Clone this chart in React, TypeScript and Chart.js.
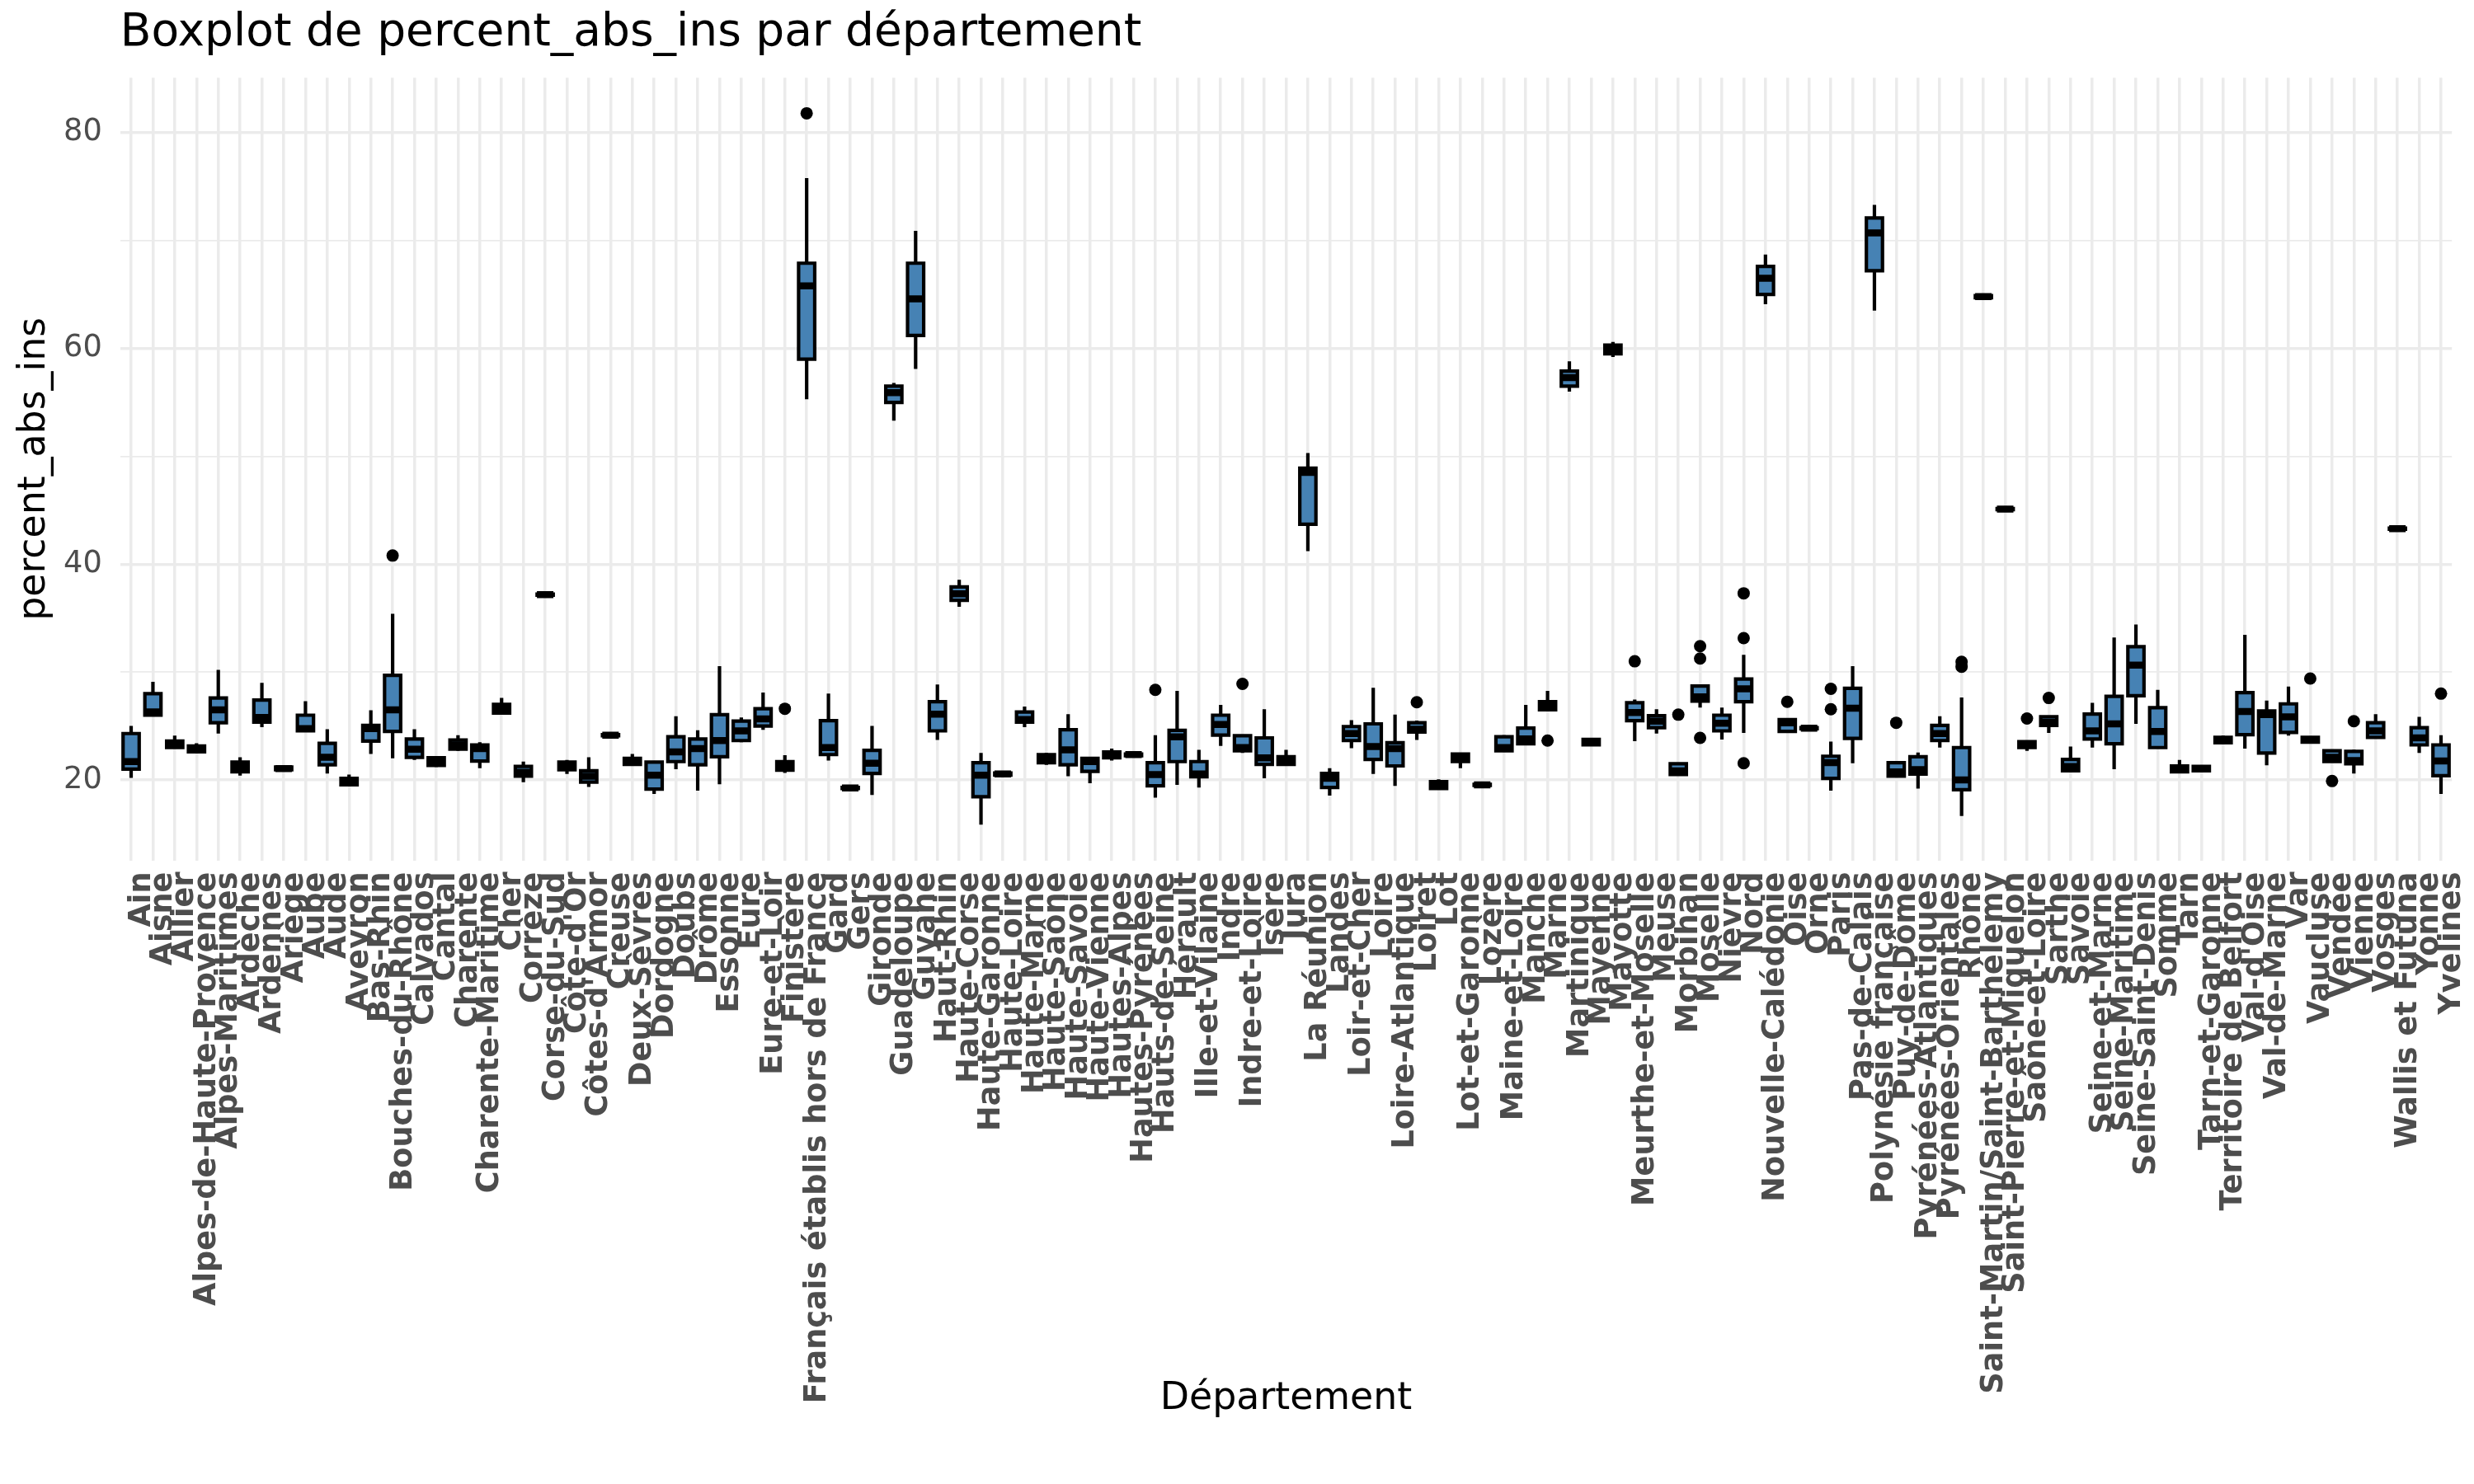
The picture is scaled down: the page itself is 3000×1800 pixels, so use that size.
import React, { useEffect, useRef } from 'react';
import { Chart, registerables } from 'chart.js';

Chart.register(...registerables);

const departements = [
  'Ain', 'Aisne', 'Allier', 'Alpes-de-Haute-Provence', 'Alpes-Maritimes', 'Ardèche', 'Ardennes', 'Ariège', 'Aube', 'Aude',
  'Aveyron', 'Bas-Rhin', 'Bouches-du-Rhône', 'Calvados', 'Cantal', 'Charente', 'Charente-Maritime', 'Cher', 'Corrèze', 'Corse-du-Sud',
  "Côte-d'Or", "Côtes-d'Armor", 'Creuse', 'Deux-Sèvres', 'Dordogne', 'Doubs', 'Drôme', 'Essonne', 'Eure', 'Eure-et-Loir',
  'Finistère', 'Français établis hors de France', 'Gard', 'Gers', 'Gironde', 'Guadeloupe', 'Guyane', 'Haut-Rhin', 'Haute-Corse', 'Haute-Garonne',
  'Haute-Loire', 'Haute-Marne', 'Haute-Saône', 'Haute-Savoie', 'Haute-Vienne', 'Hautes-Alpes', 'Hautes-Pyrénées', 'Hauts-de-Seine', 'Hérault', 'Ille-et-Vilaine',
  'Indre', 'Indre-et-Loire', 'Isère', 'Jura', 'La Réunion', 'Landes', 'Loir-et-Cher', 'Loire', 'Loire-Atlantique', 'Loiret',
  'Lot', 'Lot-et-Garonne', 'Lozère', 'Maine-et-Loire', 'Manche', 'Marne', 'Martinique', 'Mayenne', 'Mayotte', 'Meurthe-et-Moselle',
  'Meuse', 'Morbihan', 'Moselle', 'Nièvre', 'Nord', 'Nouvelle-Calédonie', 'Oise', 'Orne', 'Paris', 'Pas-de-Calais',
  'Polynésie française', 'Puy-de-Dôme', 'Pyrénées-Atlantiques', 'Pyrénées-Orientales', 'Rhône', 'Saint-Martin/Saint-Barthélemy', 'Saint-Pierre-et-Miquelon', 'Saône-et-Loire', 'Sarthe', 'Savoie',
  'Seine-et-Marne', 'Seine-Maritime', 'Seine-Saint-Denis', 'Somme', 'Tarn', 'Tarn-et-Garonne', 'Territoire de Belfort', "Val-d'Oise", 'Val-de-Marne', 'Var',
  'Vaucluse', 'Vendée', 'Vienne', 'Vosges', 'Wallis et Futuna', 'Yonne', 'Yvelines',
];

const minValues = [
  20.2, 25.9, 22.9, 22.5, 24.3, 20.4, 24.9, 20.9, 24.5, 20.6,
  19.5, 22.4, 22.0, 21.85, 21.2, 22.7, 21.1, 26.05, 19.8, 37.1,
  20.55, 19.35, 24.0, 21.4, 18.7, 21.0, 19.0, 19.6, 23.5, 24.65,
  20.65, 55.3, 21.8, 19.15, 18.6, 53.3, 58.1, 23.7, 36.05, 15.85,
  20.4, 24.9, 21.4, 20.35, 19.7, 21.8, 22.2, 18.35, 19.55, 19.3,
  23.15, 22.5, 20.15, 21.4, 41.2, 18.55, 22.95, 20.55, 19.45, 23.7,
  19.1, 21.1, 19.45, 22.65, 23.3, 26.5, 56.0, 23.2, 59.2, 23.6,
  24.3, 20.4, 26.7, 23.75, 24.35, 64.1, 24.4, 24.7, 19.0, 21.55,
  63.5, 20.3, 19.2, 23.0, 16.65, 64.6, 45.0, 22.7, 24.35, 20.8,
  23.0, 21.0, 25.2, 22.95, 20.7, 20.8, 23.4, 22.9, 21.35, 24.1,
  23.45, 21.7, 20.6, 23.9, 43.2, 22.5, 18.7,
];

const q1Values = [
  21.0, 26.0, 23.0, 22.6, 25.3, 20.75, 25.35, 20.95, 24.55, 21.4,
  19.55, 23.6, 24.5, 22.1, 21.35, 22.85, 21.75, 26.2, 20.35, 37.12,
  20.95, 19.8, 24.1, 21.45, 19.15, 21.7, 21.4, 22.15, 23.65, 25.0,
  20.9, 59.0, 22.35, 19.2, 20.6, 55.0, 61.2, 24.55, 36.65, 18.45,
  20.45, 25.35, 21.6, 21.4, 20.8, 22.05, 22.25, 19.45, 21.7, 20.3,
  24.15, 22.7, 21.45, 21.45, 43.7, 19.3, 23.65, 21.9, 21.3, 24.45,
  19.2, 21.7, 19.5, 22.7, 23.35, 26.5, 56.5, 23.25, 59.5, 25.5,
  24.85, 20.5, 27.3, 24.55, 27.25, 65.0, 24.5, 24.75, 20.15, 23.85,
  67.2, 20.35, 20.55, 23.65, 19.1, 64.7, 45.05, 23.0, 25.05, 20.85,
  23.8, 23.35, 27.8, 23.0, 20.75, 20.85, 23.45, 24.2, 22.5, 24.4,
  23.5, 21.7, 21.5, 23.95, 43.25, 23.25, 20.4,
];

const medianValues = [
  21.7, 26.3, 23.3, 22.9, 26.5, 21.2, 25.8, 21.05, 24.75, 22.1,
  19.8, 24.75, 26.5, 22.85, 21.7, 23.25, 22.9, 26.6, 20.7, 37.17,
  21.35, 20.35, 24.15, 21.7, 20.45, 22.6, 22.9, 23.65, 24.55, 25.65,
  21.3, 65.8, 23.0, 19.25, 21.55, 55.9, 64.6, 26.1, 37.25, 20.45,
  20.55, 25.6, 22.0, 22.8, 21.7, 22.35, 22.35, 20.5, 24.0, 20.55,
  25.15, 23.0, 22.05, 21.7, 48.5, 20.15, 24.3, 23.1, 22.9, 24.7,
  19.5, 22.1, 19.55, 23.0, 23.8, 26.95, 57.3, 23.5, 59.9, 26.25,
  25.45, 20.85, 27.7, 25.25, 28.45, 66.5, 25.3, 24.8, 21.6, 26.65,
  70.7, 20.75, 20.95, 24.3, 20.0, 64.8, 45.1, 23.3, 25.35, 21.25,
  24.55, 25.2, 30.65, 24.5, 21.0, 21.05, 23.7, 26.35, 26.05, 25.85,
  23.7, 22.1, 21.8, 24.55, 43.3, 23.9, 21.75,
];

const q3Values = [
  24.3, 28.0, 23.6, 23.15, 27.6, 21.65, 27.4, 21.2, 26.0, 23.4,
  20.15, 25.05, 29.7, 23.8, 22.05, 23.7, 23.25, 27.0, 21.25, 37.22,
  21.65, 20.85, 24.2, 22.0, 21.65, 24.0, 23.8, 26.05, 25.45, 26.6,
  21.7, 67.9, 25.5, 19.3, 22.75, 56.5, 67.9, 27.25, 37.9, 21.6,
  20.65, 26.3, 22.35, 24.65, 22.0, 22.6, 22.4, 21.6, 24.6, 21.7,
  26.0, 24.1, 23.9, 22.15, 48.9, 20.6, 24.95, 25.2, 23.45, 25.3,
  19.85, 22.4, 19.6, 24.0, 24.8, 27.25, 57.9, 23.75, 60.3, 27.15,
  25.95, 21.5, 28.7, 26.0, 29.35, 67.6, 25.6, 24.85, 22.2, 28.5,
  72.1, 21.6, 22.15, 25.05, 23.0, 64.9, 45.15, 23.55, 25.85, 21.9,
  26.1, 27.75, 32.35, 26.7, 21.3, 21.25, 23.95, 28.1, 26.4, 27.05,
  23.95, 22.7, 22.65, 25.3, 43.35, 24.85, 23.25,
];

const maxValues = [
  25.0, 29.1, 24.1, 23.4, 30.2, 22.1, 29.0, 21.3, 27.3, 24.7,
  20.5, 26.45, 35.4, 24.7, 22.2, 24.15, 23.5, 27.6, 21.7, 37.25,
  21.85, 22.1, 24.3, 22.4, 21.75, 25.9, 24.6, 30.55, 25.8, 28.1,
  22.3, 75.8, 28.0, 19.35, 25.0, 56.8, 70.9, 28.85, 38.55, 22.5,
  20.7, 26.8, 22.5, 26.1, 22.15, 22.9, 22.45, 24.15, 28.25, 22.8,
  26.95, 24.1, 26.55, 22.8, 50.3, 21.1, 25.55, 28.55, 26.05, 25.5,
  20.05, 22.5, 19.65, 24.15, 26.95, 28.25, 58.8, 23.8, 60.6, 27.45,
  26.55, 21.55, 28.75, 26.7, 31.6, 68.7, 25.65, 24.9, 23.55, 30.55,
  73.3, 21.65, 22.55, 25.9, 27.65, 65.0, 45.2, 23.6, 25.9, 23.1,
  27.15, 33.2, 34.4, 28.35, 21.85, 21.3, 24.1, 33.45, 27.35, 28.65,
  24.0, 22.8, 22.8, 26.1, 43.4, 25.85, 24.15,
];

const outlierDepartements = [
  'Bouches-du-Rhône', 'Finistère', 'Français établis hors de France', 'Hauts-de-Seine', 'Indre-et-Loire',
  'Loiret', 'Marne', 'Meurthe-et-Moselle', 'Morbihan', 'Moselle', 'Moselle', 'Moselle',
  'Nord', 'Nord', 'Nord', 'Oise', 'Paris', 'Paris', 'Puy-de-Dôme', 'Rhône', 'Rhône',
  'Saône-et-Loire', 'Sarthe', 'Vaucluse', 'Vendée', 'Vienne', 'Yvelines',
];

const outlierValues = [
  40.8, 26.6, 81.8, 28.35, 28.9,
  27.2, 23.65, 31.0, 26.05, 32.4, 31.25, 23.9,
  37.3, 33.15, 21.55, 27.25, 28.45, 26.55, 25.3, 30.95, 30.5,
  25.7, 27.6, 29.4, 19.9, 25.45, 28.0,
];

const majorTicks = [20, 40, 60, 80];

const FONT = 'DejaVu Sans';
const BLUE = '#4682B4';
const GRID = '#EBEBEB';
const TICK_COLOR = '#4D4D4D';

export default function App() {
  const ref = useRef<HTMLCanvasElement>(null);

  useEffect(() => {
    const canvas = ref.current;
    if (!canvas) return;
    Chart.defaults.font.family = FONT;

    const boxData = q1Values.map((q, i) => [q, q3Values[i]]);
    const whiskerData = minValues.map((m, i) => [m, maxValues[i]]);
    const outlierData = outlierDepartements.map((d, i) => ({ x: d, y: outlierValues[i] }));

    const chart = new Chart(canvas, {
      type: 'bar',
      data: {
        labels: departements,
        datasets: [
          {
            type: 'line',
            label: 'outliers',
            data: outlierData as any,
            showLine: false,
            pointStyle: 'circle',
            pointRadius: 7.5,
            pointHoverRadius: 7.5,
            pointBackgroundColor: '#000',
            pointBorderWidth: 0,
            order: 1,
          } as any,
          {
            type: 'line',
            label: 'median',
            data: medianValues,
            showLine: false,
            pointStyle: 'line',
            pointRadius: 10,
            pointHoverRadius: 10,
            pointBorderWidth: 8.5,
            pointBorderColor: '#000',
            pointBackgroundColor: '#000',
            order: 2,
          } as any,
          {
            type: 'bar',
            label: 'box',
            data: boxData as any,
            backgroundColor: (c: any) => {
              const raw = c.raw as number[];
              const y = c.chart.scales.y;
              if (!raw || !y) return BLUE;
              const h = Math.abs(y.getPixelForValue(raw[0]) - y.getPixelForValue(raw[1]));
              return h > 4.4 ? BLUE : 'rgba(0,0,0,0)';
            },
            borderWidth: 0,
            inflateAmount: -2.1,
            barPercentage: 0.74,
            categoryPercentage: 1,
            grouped: false,
            order: 3,
          } as any,
          {
            type: 'bar',
            label: 'boxOutline',
            data: boxData as any,
            backgroundColor: '#000',
            borderWidth: 0,
            inflateAmount: 2.1,
            barPercentage: 0.74,
            categoryPercentage: 1,
            grouped: false,
            order: 4,
          } as any,
          {
            type: 'bar',
            label: 'whisker',
            data: whiskerData as any,
            backgroundColor: '#000',
            borderWidth: 0,
            inflateAmount: 0,
            barThickness: 4.2,
            grouped: false,
            order: 5,
          } as any,
        ],
      },
      options: {
        animation: false,
        responsive: false,
        maintainAspectRatio: false,
        devicePixelRatio: 1,
        layout: { padding: { top: 0, left: 0, right: 26.8, bottom: 60 } },
        plugins: {
          legend: { display: false },
          tooltip: { enabled: false },
          title: {
            display: true,
            text: 'Boxplot de percent_abs_ins par département',
            align: 'start',
            color: '#000',
            fullSize: false,
            font: { family: FONT, size: 55, weight: 'normal' },
            padding: { top: 8, bottom: 20.2 },
          },
        },
        scales: {
          x: {
            type: 'category',
            offset: true,
            border: { display: false },
            grid: { color: GRID, lineWidth: 3.5, offset: false, drawTicks: false },
            ticks: {
              autoSkip: false,
              minRotation: 90,
              maxRotation: 90,
              padding: 14,
              labelOffset: 13,
              color: TICK_COLOR,
              font: { family: FONT, size: 36.7, weight: 'bold' },
            },
            title: {
              display: true,
              text: 'Département',
              color: '#000',
              font: { family: FONT, size: 45.8, weight: 'normal' },
              padding: { top: 0, bottom: 15 },
            },
            afterFit: (s: any) => {
              s.height = 696.5;
              s.paddingLeft = 0;
              s.paddingRight = 0;
            },
          },
          y: {
            type: 'linear',
            min: 12.55,
            max: 85.1,
            border: { display: false },
            grid: {
              color: GRID,
              drawTicks: false,
              lineWidth: (c: any) => (c.tick && majorTicks.includes(c.tick.value) ? 3.5 : 1.8),
            },
            ticks: {
              stepSize: 10,
              includeBounds: false,
              padding: 22,
              color: TICK_COLOR,
              font: { family: FONT, size: 36.7, weight: 'normal' },
              callback: (v: any) => (majorTicks.includes(Number(v)) ? String(v) : ''),
            },
            title: {
              display: true,
              text: 'percent_abs_ins',
              color: '#000',
              font: { family: FONT, size: 45.8, weight: 'normal' },
              padding: { top: 14.5, bottom: 0 },
            },
            afterFit: (s: any) => {
              s.width = 145.8;
            },
          },
        },
      } as any,
    });

    return () => chart.destroy();
  }, []);

  return (
    <div style={{ position: 'fixed', left: 0, top: 0, width: 3000, height: 1800, background: '#fff' }}>
      <canvas ref={ref} width={3000} height={1800} style={{ width: 3000, height: 1800, display: 'block' }} />
    </div>
  );
}
